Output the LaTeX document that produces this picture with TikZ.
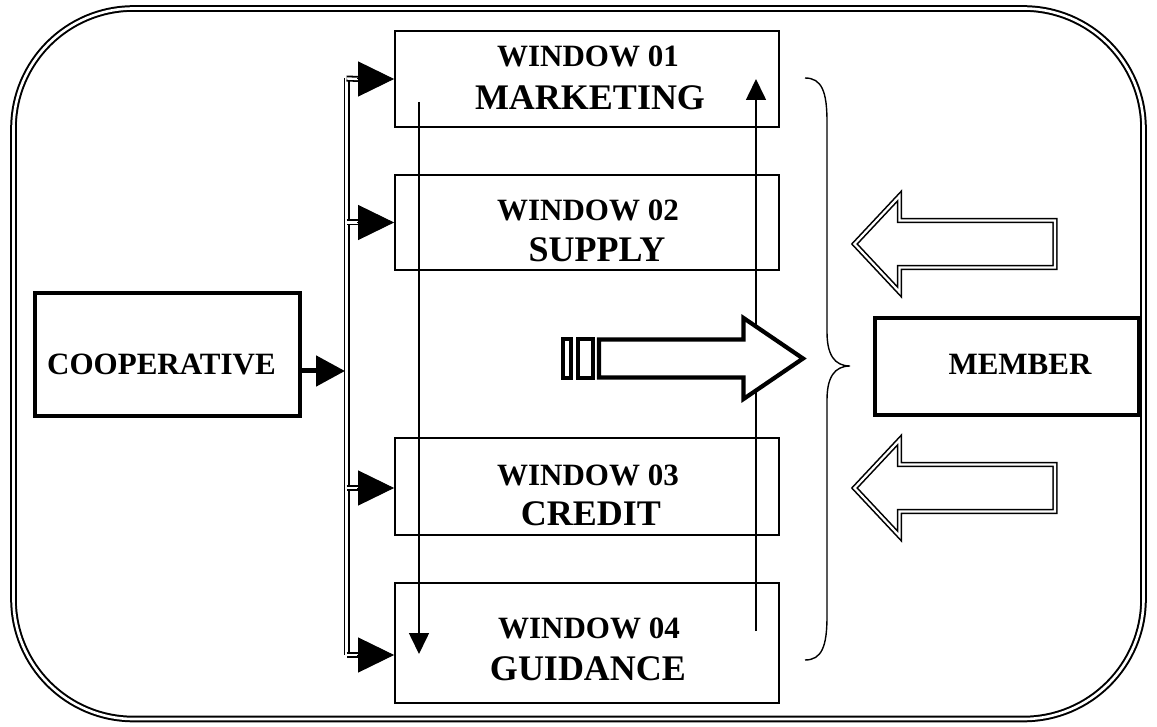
\documentclass[tikz,border=0pt]{standalone}
\usepackage{fontspec}
\setmainfont{Liberation Serif}
\usetikzlibrary{arrows.meta}

\tikzset{
  frame/.style={line width=2pt, double, double distance=2.6pt, rounded corners=120pt},
  winbox/.style={draw, line width=1.8pt, rectangle, inner sep=0pt, minimum width=384pt},
  bigbox/.style={draw, line width=4.5pt, rectangle, inner sep=0pt},
  lbl/.style={anchor=base, inner sep=0pt, font=\bfseries\fontsize{31}{31}\selectfont},
  lblbig/.style={anchor=base, inner sep=0pt, font=\bfseries\fontsize{36}{36}\selectfont},
  rail/.style={line width=1.8pt, double, double distance=2.4pt},
  branchhead/.style={line width=1pt, -{Triangle[length=36pt,width=35pt]}},
  flow/.style={line width=1.6pt, -{Triangle[length=21pt,width=20pt]}},
  hollow/.style={line width=1.6pt, double, double distance=2.2pt, line join=miter},
  fat/.style={line width=4.2pt, line join=miter},
}

\begin{document}
\begin{tikzpicture}[x=1pt, y=-1pt]
  \useasboundingbox (0,0) rectangle (1157,727);

  % outer rounded frame
  \draw[frame] (13.5,8.5) rectangle (1143.5,719);

  % the four service windows
  \node[winbox, minimum height=96pt] (w1) at (587,79) {};
  \node[winbox, minimum height=95pt] (w2) at (587,222.5) {};
  \node[winbox, minimum height=97pt] (w3) at (587,486.5) {};
  \node[winbox, minimum height=120pt] (w4) at (587,643) {};

  \node[lbl]    (t1a) at (588,67)  {WINDOW 01};
  \node[lblbig] (t1b) at (590,110) {MARKETING};
  \node[lbl]    (t2a) at (588,221) {WINDOW 02};
  \node[lblbig] (t2b) at (597,262) {SUPPLY};
  \node[lbl]    (t3a) at (588,485) {WINDOW 03};
  \node[lblbig] (t3b) at (591,525) {CREDIT};
  \node[lbl]    (t4a) at (589,638) {WINDOW 04};
  \node[lblbig] (t4b) at (588,680) {GUIDANCE};

  % the two parties
  \node[bigbox, minimum width=265pt, minimum height=123pt] (coop) at (167.5,354.5) {};
  \node[lbl] (coopt) at (161.5,374.3) {COOPERATIVE};
  \node[bigbox, minimum width=264pt, minimum height=97pt] (mem) at (1007,366.5) {};
  \node[lbl] (memt) at (1020,374.3) {MEMBER};

  % distribution rail from the cooperative to the windows
  \coordinate (r1) at (346.5,78.5);
  \coordinate (r2) at (346.5,222.5);
  \coordinate (r3) at (346.5,488);
  \coordinate (r4) at (346.5,655);
  \coordinate (r0) at (345,371);
  \draw[rail] (r1) -- (r4);
  \draw[rail] (r1) -- ([xshift=-35pt]w1.west);
  \draw[rail] (r2) -- ([xshift=-35pt]w2.west);
  \draw[rail] (r3) -- ([xshift=-35pt,yshift=-1.5pt]w3.west);
  \draw[rail] (r4) -- ([xshift=-35pt,yshift=-12pt]w4.west);
  \draw[branchhead] ([xshift=-37pt]w1.west) -- (w1.west);
  \draw[branchhead] ([xshift=-37pt]w2.west) -- (w2.west);
  \draw[branchhead] ([xshift=-37pt,yshift=-1.5pt]w3.west) -- ([yshift=-1.5pt]w3.west);
  \draw[branchhead] ([xshift=-37pt,yshift=-12pt]w4.west) -- ([yshift=-12pt]w4.west);
  \draw[line width=5pt, -{Triangle[length=29pt,width=30pt]}] ([yshift=-16.5pt]coop.east) -- (r0);

  % flow through the windows
  \coordinate (d1) at (419,102);
  \coordinate (d2) at (419,654);
  \coordinate (u1) at (756,631);
  \coordinate (u2) at (756,79);
  \draw[flow] (d1) -- (d2);
  \draw[flow] (u1) -- (u2);

  % striped arrow towards the member side
  \draw[fat, fill=white] (563,339) rectangle (571,378);
  \draw[fat, fill=white] (578,339) rectangle (593,378);
  \draw[fat, fill=white] (599,339.5) -- (743.5,339.5) -- (743.5,318) -- (803,358.5)
        -- (743.5,399) -- (743.5,377.5) -- (599,377.5) -- cycle;

  % brace grouping the windows
  \draw[line width=1.4pt] (805,78) .. controls (822,78) and (827,92) .. (827,122)
        -- (827,332) .. controls (827,354) and (834,366) .. (850,366)
        .. controls (834,366) and (827,378) .. (827,400)
        -- (827,616) .. controls (827,646) and (822,660) .. (805,660);

  % hollow arrows from the member side
  \draw[hollow] (1055,220.5) -- (899.5,220.5) -- (899.5,196) -- (854.5,244)
        -- (899.5,292) -- (899.5,267.5) -- (1055,267.5) -- cycle;
  \draw[hollow] (1055,464.5) -- (899.5,464.5) -- (899.5,440) -- (854.5,488)
        -- (899.5,536) -- (899.5,511.5) -- (1055,511.5) -- cycle;
\end{tikzpicture}
\end{document}
